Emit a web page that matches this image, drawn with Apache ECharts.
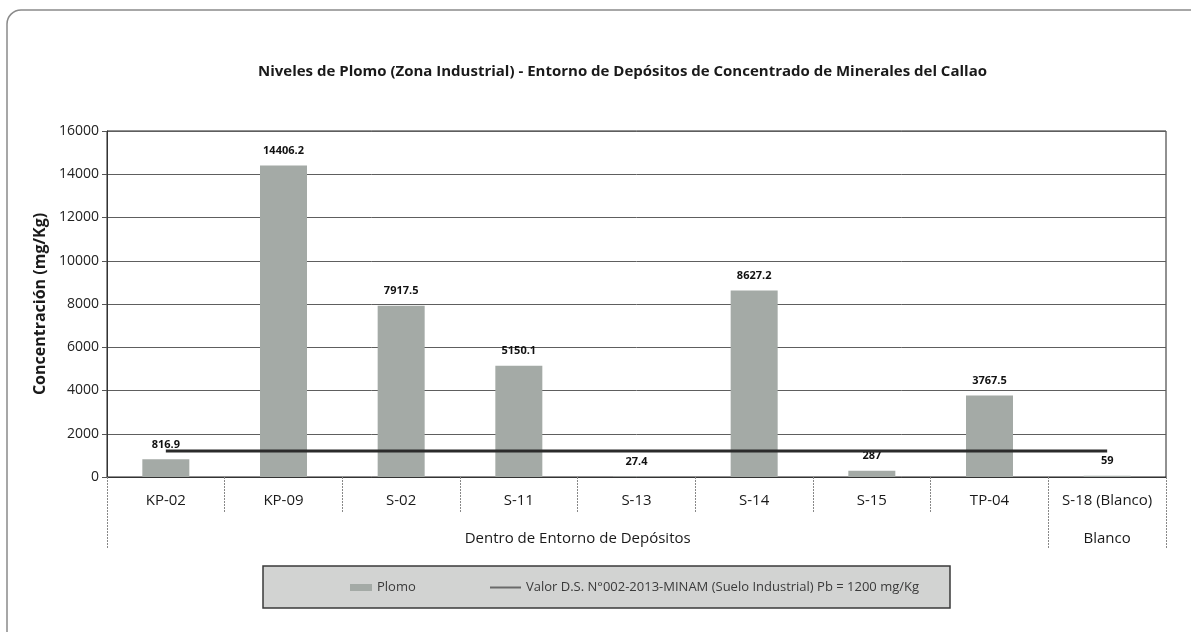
<!DOCTYPE html>
<html>
<head>
<meta charset="utf-8">
<script src="https://cdn.jsdelivr.net/npm/echarts@6/dist/echarts.min.js"></script>
<style>html,body{margin:0;padding:0;background:#fff;}#c{width:1191px;height:632px;}</style>
</head>
<body>
<div id="c"></div>
<script>
var categories = ['KP-02', 'KP-09', 'S-02', 'S-11', 'S-13', 'S-14', 'S-15', 'TP-04', 'S-18 (Blanco)'];
var plomo = [816.9, 14406.2, 7917.5, 5150.1, 27.4, 8627.2, 287, 3767.5, 59];
var limite = [1200, 1200, 1200, 1200, 1200, 1200, 1200, 1200, 1200];
var groupLabels = ['Dentro de Entorno de Depósitos', 'Blanco'];
var groupBounds = [0, 8, 9];
var groupCenters = [4, 8.5];
var yTicks = [0, 2000, 4000, 6000, 8000, 10000, 12000, 14000, 16000];
var seriesNames = ['Plomo', 'Valor D.S. N°002-2013-MINAM (Suelo Industrial) Pb = 1200 mg/Kg'];

var FONT = '"Open Sans", sans-serif';
var chart = echarts.init(document.getElementById('c'));
chart.setOption({
  backgroundColor: '#ffffff',
  animation: false,
  textStyle: { fontFamily: FONT },
  graphic: [{
    type: 'rect', silent: true, z: -1,
    shape: { x: 7, y: 10, width: 1205, height: 640, r: 14 },
    style: { fill: 'none', stroke: '#8a8a8a', lineWidth: 1.5 }
  }, {
    type: 'rect', silent: true, z: 0,
    shape: { x: 263, y: 566, width: 687, height: 42 },
    style: { fill: '#d2d3d2', stroke: '#3a3a3a', lineWidth: 1.5 }
  }],
  title: {
    text: 'Niveles de Plomo (Zona Industrial) - Entorno de Depósitos de Concentrado de Minerales del Callao',
    left: 258, top: 64, padding: 0,
    textStyle: { fontFamily: FONT, fontSize: 15, fontWeight: 'bold', color: '#1a1a1a' }
  },
  legend: [{
    left: 350, top: 581, z: 5, padding: 0,
    data: [{ name: seriesNames[0], icon: 'rect' }],
    itemWidth: 22, itemHeight: 7,
    textStyle: { fontFamily: FONT, fontSize: 13, color: '#3a3a3a' }
  }, {
    left: 490, top: 581, z: 5, padding: 0,
    data: [{ name: seriesNames[1], icon: 'rect', itemStyle: { color: '#6a6a6a' } }],
    itemWidth: 31, itemHeight: 2,
    textStyle: { fontFamily: FONT, fontSize: 13, color: '#3a3a3a' }
  }],
  grid: { left: 107, right: 25, top: 131, bottom: 155, show: true, borderColor: '#222', borderWidth: 1, backgroundColor: 'transparent' },
  xAxis: [{
    type: 'category', data: categories, position: 'bottom',
    axisLine: { lineStyle: { color: '#333', width: 1 } },
    axisTick: { show: true, length: 35, lineStyle: { color: '#888', type: [2, 1] } },
    axisLabel: { margin: 16, fontFamily: FONT, fontSize: 15, color: '#1a1a1a', interval: 0 }
  }, {
    type: 'value', min: 0, max: 9, position: 'bottom', offset: 0,
    axisLine: { show: false },
    splitLine: { show: false },
    axisTick: { show: true, length: 71, customValues: groupBounds, lineStyle: { color: '#888', type: [2, 1] } },
    axisLabel: {
      margin: 54, customValues: groupCenters, fontFamily: FONT, fontSize: 15, color: '#1a1a1a',
      formatter: function (v) { return v === groupCenters[0] ? groupLabels[0] : groupLabels[1]; }
    }
  }],
  yAxis: {
    type: 'value', min: 0, max: 16000, interval: 2000,
    name: 'Concentración (mg/Kg)', nameLocation: 'middle', nameGap: 58,
    nameTextStyle: { fontFamily: FONT, fontSize: 16, fontWeight: 'bold', color: '#1a1a1a' },
    axisLine: { show: true, lineStyle: { color: '#333' } },
    axisTick: { show: true, length: 5, lineStyle: { color: '#555' } },
    axisLabel: { fontFamily: FONT, fontSize: 14, color: '#222', margin: 8,
      formatter: function (v) { return yTicks.indexOf(v) >= 0 ? String(v) : ''; } },
    splitLine: { lineStyle: { color: '#5e5e5e', width: 1 } }
  },
  series: [{
    name: seriesNames[0], type: 'bar', data: plomo, barWidth: 47, xAxisIndex: 0,
    itemStyle: { color: '#a4aaa6' },
    label: { show: true, position: 'top', distance: 9, fontFamily: FONT, fontSize: 11, fontWeight: 'bold', color: '#111' }
  }, {
    name: seriesNames[1], type: 'line', data: limite, xAxisIndex: 0,
    symbol: 'none', z: 3,
    lineStyle: { color: '#2b2b2b', width: 3 },
    itemStyle: { color: '#6a6a6a' }
  }]
});
</script>
</body>
</html>
